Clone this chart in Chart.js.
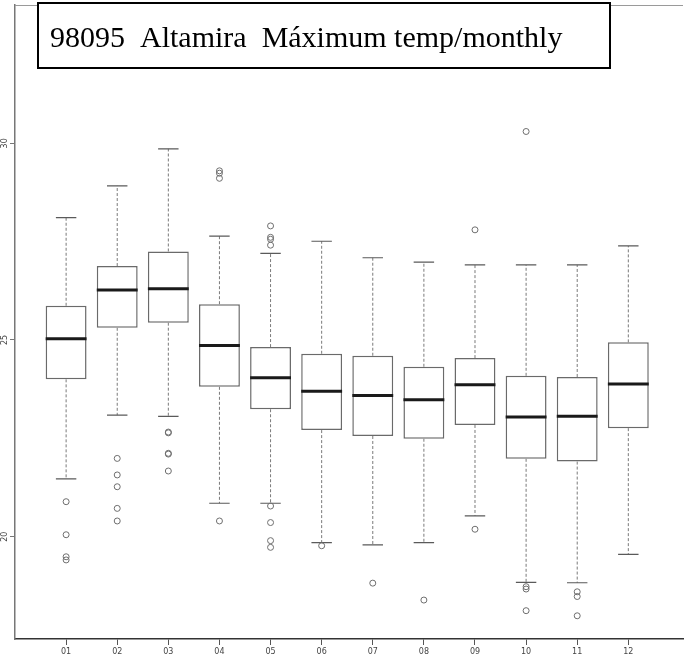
<!DOCTYPE html>
<html>
<head>
<meta charset="utf-8">
<script src="https://cdn.jsdelivr.net/npm/chart.js@4/dist/chart.umd.min.js"></script>
<style>
  html, body { margin: 0; padding: 0; background: #ffffff; }
  #wrap { width: 688px; height: 665px; }
</style>
</head>
<body>
<div id="wrap"><canvas id="c" width="688" height="665"></canvas></div>
<script>
const titleText = '98095  Altamira  Máximum temp/monthly';
const months = ['01','02','03','04','05','06','07','08','09','10','11','12'];
const yTicks = [20, 25, 30];
const q1  = [24.00, 25.31, 25.44, 23.81, 23.24, 22.71, 22.56, 22.49, 22.84, 21.98, 21.91, 22.76];
const med = [25.03, 26.27, 26.30, 24.86, 24.04, 23.70, 23.59, 23.48, 23.86, 23.04, 23.06, 23.88];
const q3  = [25.87, 26.88, 27.25, 25.91, 24.82, 24.65, 24.60, 24.32, 24.54, 24.09, 24.06, 24.94];
const whiskerLow  = [21.47, 23.09, 23.06, 20.85, 20.85, 19.85, 19.79, 19.85, 20.53, 18.84, 18.83, 19.55];
const whiskerHigh = [28.11, 28.92, 29.86, 27.64, 27.20, 27.51, 27.09, 26.98, 26.91, 26.91, 26.91, 27.39];
const outliers = [
  [20.89, 20.05, 19.49, 19.41],
  [21.99, 21.57, 21.27, 20.72, 20.40],
  [22.66, 22.64, 22.12, 22.10, 21.67],
  [29.30, 29.24, 29.11, 20.40],
  [27.90, 27.61, 27.56, 27.41, 20.78, 20.36, 19.90, 19.73],
  [19.77],
  [18.82],
  [18.39],
  [27.80, 20.19],
  [30.30, 18.73, 18.67, 18.12],
  [18.60, 18.48, 17.99],
  []
];

const BOX_HALF = 0.4;
const CAP_HALF = 0.2;

const boxData = months.map((m, i) => ({ x: i + 1, y: [q1[i], q3[i]] }));
const medianData = [];
const whiskerData = [];
const capData = [];
const outlierData = [];
months.forEach((m, i) => {
  const x = i + 1;
  medianData.push({ x: x - BOX_HALF, y: med[i] }, { x: x + BOX_HALF, y: med[i] }, { x: x, y: null });
  whiskerData.push({ x: x, y: q3[i] }, { x: x, y: whiskerHigh[i] }, { x: x, y: null });
  whiskerData.push({ x: x, y: q1[i] }, { x: x, y: whiskerLow[i] }, { x: x, y: null });
  capData.push({ x: x - CAP_HALF, y: whiskerHigh[i] }, { x: x + CAP_HALF, y: whiskerHigh[i] }, { x: x, y: null });
  capData.push({ x: x - CAP_HALF, y: whiskerLow[i] }, { x: x + CAP_HALF, y: whiskerLow[i] }, { x: x, y: null });
  outliers[i].forEach(v => outlierData.push({ x: x, y: v }));
});

const framePlugin = {
  id: 'frame',
  beforeDatasetsDraw(chart) {
    const { ctx, chartArea } = chart;
    ctx.save();
    ctx.strokeStyle = '#9a9a9a';
    ctx.lineWidth = 1;
    ctx.beginPath();
    ctx.moveTo(chartArea.left, chartArea.top + 0.5);
    ctx.lineTo(chartArea.right, chartArea.top + 0.5);
    ctx.stroke();
    ctx.restore();
  },
  afterDraw(chart) {
    const { ctx } = chart;
    ctx.save();
    ctx.fillStyle = '#ffffff';
    ctx.fillRect(38, 3, 572, 65);
    ctx.strokeStyle = '#000000';
    ctx.lineWidth = 2;
    ctx.strokeRect(38, 3, 572, 65);
    ctx.fillStyle = '#000000';
    ctx.font = '30px "Liberation Serif", "Times New Roman", serif';
    ctx.textBaseline = 'alphabetic';
    ctx.textAlign = 'left';
    ctx.fillText(titleText, 50, 47);
    ctx.restore();
  }
};

new Chart(document.getElementById('c'), {
  type: 'bar',
  data: {
    datasets: [
      {
        type: 'line', label: 'median', data: medianData, order: 0,
        borderColor: '#1a1a1a', borderWidth: 3, pointRadius: 0, spanGaps: false, fill: false
      },
      {
        type: 'scatter', label: 'outliers', data: outlierData, order: 1,
        pointStyle: 'circle', pointRadius: 3, borderColor: '#6e6e6e', borderWidth: 1,
        backgroundColor: 'rgba(255,255,255,0)', showLine: false
      },
      {
        type: 'line', label: 'caps', data: capData, order: 2,
        borderColor: '#5a5a5a', borderWidth: 1.2, pointRadius: 0, spanGaps: false, fill: false
      },
      {
        type: 'line', label: 'whiskers', data: whiskerData, order: 3,
        borderColor: '#7a7a7a', borderWidth: 1, borderDash: [3, 2], pointRadius: 0, spanGaps: false, fill: false
      },
      {
        type: 'bar', label: 'box', data: boxData, order: 4,
        backgroundColor: '#ffffff', borderColor: '#6a6a6a', borderWidth: 1.5, borderSkipped: false,
        categoryPercentage: 1.0, barPercentage: 0.8
      }
    ]
  },
  options: {
    responsive: false,
    animation: false,
    events: [],
    layout: { padding: { top: 5, left: 0, right: 0, bottom: 0 } },
    plugins: { legend: { display: false }, tooltip: { enabled: false }, title: { display: false } },
    scales: {
      x: {
        type: 'linear',
        min: 0, max: 13.07,
        offset: false,
        afterBuildTicks: (scale) => { scale.ticks = months.map((m, i) => ({ value: i + 1 })); },
        afterFit: (scale) => { scale.height = 26; },
        ticks: {
          callback: (v) => months[Math.round(v) - 1] || '',
          font: { family: 'DejaVu Sans', size: 8 },
          color: '#444',
          padding: 2,
          maxRotation: 0, minRotation: 0,
          autoSkip: false
        },
        grid: { offset: false, drawOnChartArea: false, drawTicks: true, tickLength: 6, color: '#555', tickWidth: 1 },
        border: { display: true, color: '#333', width: 1.5 }
      },
      y: {
        type: 'linear',
        min: 17.4, max: 33.515,
        afterBuildTicks: (scale) => { scale.ticks = yTicks.map(v => ({ value: v })); },
        afterFit: (scale) => { scale.width = 15; },
        ticks: {
          font: { family: 'DejaVu Sans', size: 8 },
          color: '#444',
          padding: 0,
          minRotation: 90, maxRotation: 90,
          crossAlign: 'center'
        },
        grid: { drawOnChartArea: false, drawTicks: true, tickLength: 5, color: '#777', tickWidth: 1 },
        border: { display: true, color: '#777', width: 1.5 }
      }
    }
  },
  plugins: [framePlugin]
});
</script>
</body>
</html>
